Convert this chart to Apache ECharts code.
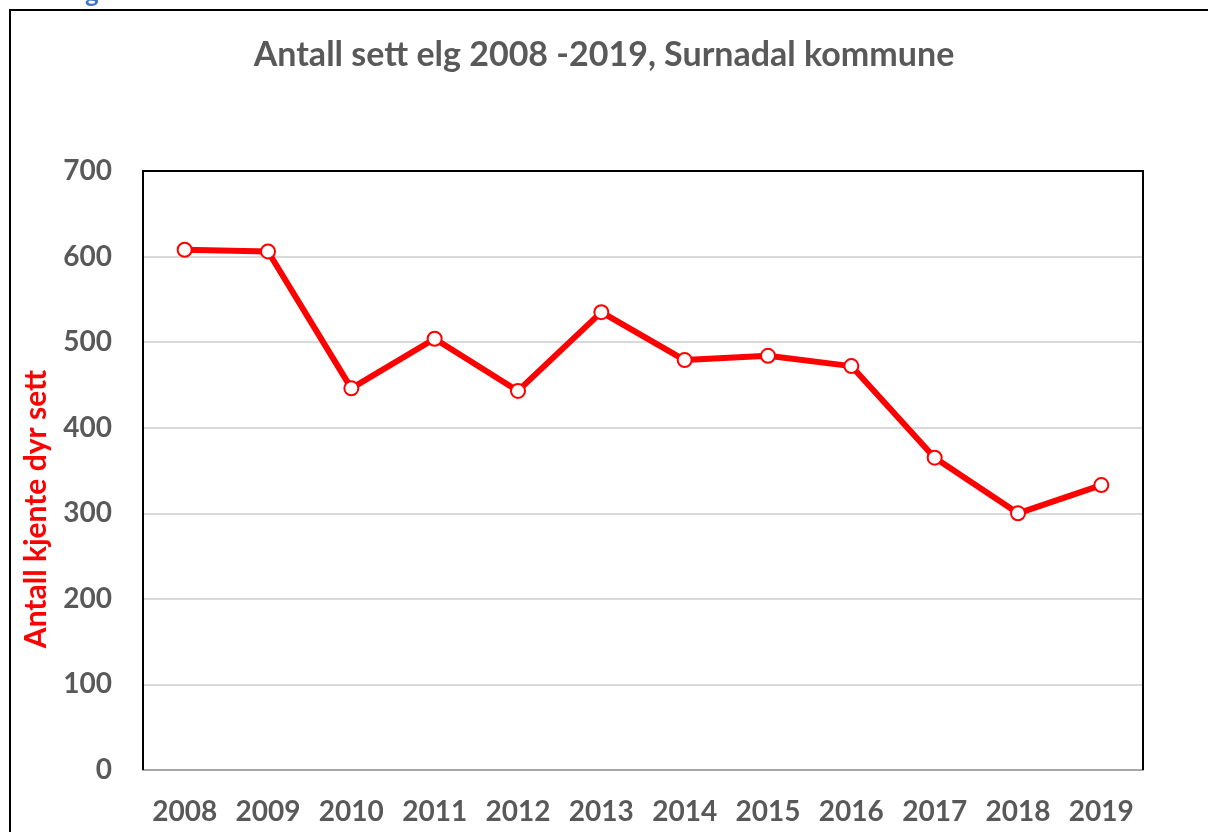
<!DOCTYPE html>
<html><head><meta charset="utf-8">
<script src="https://cdn.jsdelivr.net/npm/echarts@6/dist/echarts.min.js"></script>
<style>html,body{margin:0;padding:0;background:#fff}#c{width:1208px;height:832px}</style>
</head><body><div id="c"></div>
<script>
const years = ['2008','2009','2010','2011','2012','2013','2014','2015','2016','2017','2018','2019'];
const seen = [608, 606, 446, 504, 443, 535, 479, 484, 472, 365, 300, 333];
const yTicks = {min: 0, max: 700, interval: 100};
const titleText = 'Antall sett elg 2008 -2019, Surnadal kommune';
const yName = 'Antall kjente dyr sett';

const chart = echarts.init(document.getElementById('c'), null, {renderer: 'canvas'});
const FONT = 'Lato';
const G = {left: 143, top: 171, width: 1000, height: 599};
chart.setOption({
  animation: false,
  backgroundColor: '#fff',
  title: {
    text: titleText, left: 'center', top: 33,
    textStyle: {fontFamily: FONT, fontWeight: 'bold', fontSize: 34, color: '#595959'}
  },
  grid: {left: G.left, top: G.top, width: G.width, height: G.height, show: false},
  xAxis: {
    type: 'category', data: years, boundaryGap: true,
    axisLine: {show: true, lineStyle: {color: '#a6a6a6', width: 2}},
    axisTick: {show: false},
    axisLabel: {interval: 0, hideOverlap: false, fontFamily: FONT, fontWeight: 'bold', fontSize: 28, color: '#595959', margin: 28}
  },
  yAxis: {
    type: 'value', min: yTicks.min, max: yTicks.max, interval: yTicks.interval,
    axisLine: {show: false}, axisTick: {show: false},
    splitLine: {lineStyle: {color: '#d9d9d9', width: 2}},
    axisLabel: {fontFamily: FONT, fontWeight: 'bold', fontSize: 28, color: '#595959', margin: 31}
  },
  series: [{
    type: 'line', data: seen,
    lineStyle: {color: '#ff0000', width: 6},
    symbol: 'circle', symbolSize: 14,
    itemStyle: {color: '#ffffff', borderColor: '#ff0000', borderWidth: 2},
    z: 5
  }],
  graphic: [
    {type: 'rect', shape: {x: 10, y: 10, width: 1220, height: 840}, style: {fill: 'none', stroke: '#000', lineWidth: 2}, z: 0, silent: true},
    {type: 'polyline', shape: {points: [[G.left, G.top + G.height], [G.left, G.top], [G.left + G.width, G.top], [G.left + G.width, G.top + G.height]]}, style: {fill: 'none', stroke: '#000', lineWidth: 2}, z: 3, silent: true},
    {type: 'text', x: 85, y: -19, style: {text: 'g', font: 'bold 26px Lato', fill: '#4472c4'}, z: 10},
    {type: 'text', x: 36, y: 509, rotation: Math.PI / 2, style: {text: yName, font: 'bold 30px Lato', fill: '#ff0000', align: 'center', verticalAlign: 'middle'}, z: 10}
  ]
});
</script></body></html>
